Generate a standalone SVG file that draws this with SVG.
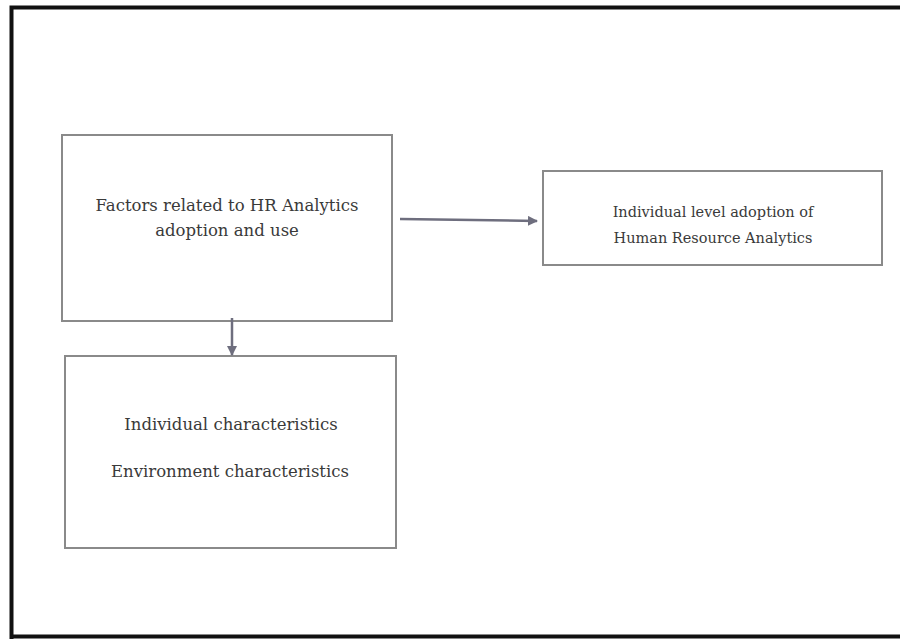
<svg xmlns="http://www.w3.org/2000/svg" width="900" height="639" viewBox="0 0 900 639">
<defs>
<style>
.box{fill:#fff;stroke:#8a8a8a;stroke-width:2}
.t{font-family:"DejaVu Serif","Liberation Serif",serif;fill:#3a3a3a;text-anchor:middle}
.c{stroke:#6e6e7e;stroke-width:2.5;fill:none}
</style>
<marker id="ah" viewBox="0 0 10 10" refX="9" refY="5" markerWidth="4" markerHeight="4" orient="auto" markerUnits="strokeWidth">
<path d="M0,0 L10,5 L0,10 z" fill="#6e6e7e"/>
</marker>
</defs>
<rect width="900" height="639" fill="#fff"/>
<path d="M11.5,639 V7.5 H900 M11.5,636.5 H900" stroke="#111" stroke-width="4" fill="none"/>
<g id="node-factors">
<rect class="box" x="62" y="135" width="330" height="186"/>
<text class="t" x="227" y="211" font-size="16.5">Factors related to HR Analytics</text>
<text class="t" x="227" y="236" font-size="16.5">adoption and use</text>
</g>
<g id="node-adoption">
<rect class="box" x="543" y="171" width="339" height="94"/>
<text class="t" x="713" y="217" font-size="14.5">Individual level adoption of</text>
<text class="t" x="713" y="243" font-size="14.5">Human Resource Analytics</text>
</g>
<g id="node-characteristics">
<rect class="box" x="65" y="356" width="331" height="192"/>
<text class="t" x="231" y="430" font-size="16.5">Individual characteristics</text>
<text class="t" x="230" y="477" font-size="16.5">Environment characteristics</text>
</g>
<g id="connectors">
<line class="c" x1="400" y1="219" x2="537" y2="221" marker-end="url(#ah)"/>
<line class="c" x1="232" y1="318" x2="232" y2="355" marker-end="url(#ah)"/>
</g>
</svg>
